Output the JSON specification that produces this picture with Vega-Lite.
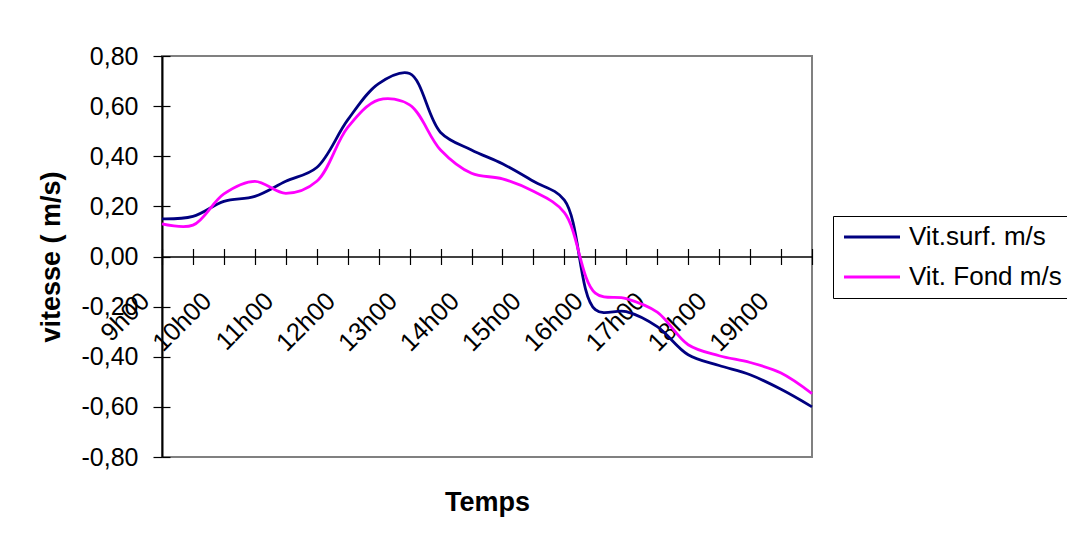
{
  "$schema": "https://vega.github.io/schema/vega-lite/v6.json",
  "width": 650,
  "height": 401,
  "autosize": {"type": "none"},
  "padding": {"left": 162, "top": 56, "right": 255, "bottom": 85},
  "background": "white",
  "config": {
    "view": {"stroke": "#808080", "strokeWidth": 2},
    "font": "Liberation Sans",
    "axis": {"grid": false}
  },
  "data": {
    "values": [
      {"t": 9.0, "serie": "Vit.surf. m/s", "v": 0.150},
      {"t": 9.5, "serie": "Vit.surf. m/s", "v": 0.160},
      {"t": 10.0, "serie": "Vit.surf. m/s", "v": 0.220},
      {"t": 10.5, "serie": "Vit.surf. m/s", "v": 0.240},
      {"t": 11.0, "serie": "Vit.surf. m/s", "v": 0.300},
      {"t": 11.5, "serie": "Vit.surf. m/s", "v": 0.355},
      {"t": 12.0, "serie": "Vit.surf. m/s", "v": 0.545},
      {"t": 12.5, "serie": "Vit.surf. m/s", "v": 0.690},
      {"t": 13.0, "serie": "Vit.surf. m/s", "v": 0.730},
      {"t": 13.5, "serie": "Vit.surf. m/s", "v": 0.495},
      {"t": 14.0, "serie": "Vit.surf. m/s", "v": 0.425},
      {"t": 14.5, "serie": "Vit.surf. m/s", "v": 0.370},
      {"t": 15.0, "serie": "Vit.surf. m/s", "v": 0.300},
      {"t": 15.5, "serie": "Vit.surf. m/s", "v": 0.225},
      {"t": 16.0, "serie": "Vit.surf. m/s", "v": -0.212},
      {"t": 16.5, "serie": "Vit.surf. m/s", "v": -0.220},
      {"t": 17.0, "serie": "Vit.surf. m/s", "v": -0.280},
      {"t": 17.5, "serie": "Vit.surf. m/s", "v": -0.392},
      {"t": 18.0, "serie": "Vit.surf. m/s", "v": -0.435},
      {"t": 18.5, "serie": "Vit.surf. m/s", "v": -0.472},
      {"t": 19.0, "serie": "Vit.surf. m/s", "v": -0.530},
      {"t": 19.5, "serie": "Vit.surf. m/s", "v": -0.600},
      {"t": 9.0, "serie": "Vit. Fond m/s", "v": 0.130},
      {"t": 9.5, "serie": "Vit. Fond m/s", "v": 0.125},
      {"t": 10.0, "serie": "Vit. Fond m/s", "v": 0.250},
      {"t": 10.5, "serie": "Vit. Fond m/s", "v": 0.300},
      {"t": 11.0, "serie": "Vit. Fond m/s", "v": 0.252},
      {"t": 11.5, "serie": "Vit. Fond m/s", "v": 0.300},
      {"t": 12.0, "serie": "Vit. Fond m/s", "v": 0.515},
      {"t": 12.5, "serie": "Vit. Fond m/s", "v": 0.625},
      {"t": 13.0, "serie": "Vit. Fond m/s", "v": 0.605},
      {"t": 13.5, "serie": "Vit. Fond m/s", "v": 0.425},
      {"t": 14.0, "serie": "Vit. Fond m/s", "v": 0.332},
      {"t": 14.5, "serie": "Vit. Fond m/s", "v": 0.310},
      {"t": 15.0, "serie": "Vit. Fond m/s", "v": 0.260},
      {"t": 15.5, "serie": "Vit. Fond m/s", "v": 0.175},
      {"t": 16.0, "serie": "Vit. Fond m/s", "v": -0.146},
      {"t": 16.5, "serie": "Vit. Fond m/s", "v": -0.168},
      {"t": 17.0, "serie": "Vit. Fond m/s", "v": -0.222},
      {"t": 17.5, "serie": "Vit. Fond m/s", "v": -0.352},
      {"t": 18.0, "serie": "Vit. Fond m/s", "v": -0.396},
      {"t": 18.5, "serie": "Vit. Fond m/s", "v": -0.423},
      {"t": 19.0, "serie": "Vit. Fond m/s", "v": -0.465},
      {"t": 19.5, "serie": "Vit. Fond m/s", "v": -0.547}
    ]
  },
  "layer": [
    {
      "mark": {"type": "line", "interpolate": "catmull-rom", "strokeWidth": 2.8},
      "encoding": {
        "x": {
          "field": "t", "type": "quantitative",
          "scale": {"domain": [9, 19.5], "nice": false, "zero": false},
          "axis": {
            "orient": "bottom", "offset": -200.5,
            "values": [9, 9.5, 10, 10.5, 11, 11.5, 12, 12.5, 13, 13.5, 14, 14.5, 15, 15.5, 16, 16.5, 17, 17.5, 18, 18.5, 19, 19.5],
            "labelExpr": "datum.value == floor(datum.value) ? floor(datum.value) + 'h00' : ''",
            "labelAngle": -45, "labelAlign": "right", "labelBaseline": "middle",
            "labelFontSize": 25.5, "labelColor": "black", "labelOffset": -17, "labelPadding": 32,
            "labelOverlap": false, "labelBound": false, "labelFlush": false,
            "tickSize": 8, "tickColor": "black", "tickWidth": 1.2,
            "domainColor": "black", "domainWidth": 1.5,
            "title": "Temps", "titleFontSize": 27, "titleFontWeight": "bold", "titleColor": "black",
            "titleY": 253.5, "titleBaseline": "alphabetic"
          }
        },
        "y": {
          "field": "v", "type": "quantitative",
          "scale": {"domain": [-0.8, 0.8], "nice": false},
          "axis": {
            "orient": "left",
            "values": [-0.8, -0.6, -0.4, -0.2, 0, 0.2, 0.4, 0.6, 0.8],
            "labelExpr": "(datum.value < -0.001 ? '-' : '') + replace(format(abs(datum.value), '.2f'), '.', ',')",
            "labelFontSize": 25, "labelColor": "black", "labelPadding": 15,
            "tickSize": 9, "tickColor": "black", "tickWidth": 1.2,
            "domainColor": "black", "domainWidth": 2,
            "title": "vitesse ( m/s)", "titleFontSize": 27, "titleFontWeight": "bold", "titleColor": "black",
            "titleX": -111, "titleBaseline": "middle"
          }
        },
        "color": {
          "field": "serie", "type": "nominal",
          "scale": {"domain": ["Vit.surf. m/s", "Vit. Fond m/s"], "range": ["#000080", "#FF00FF"]},
          "legend": {
            "orient": "none", "legendX": 671, "legendY": 160, "title": null,
            "strokeColor": "black", "fillColor": "white", "padding": 8,
            "symbolType": "M-1,0H4.6", "symbolSize": 400, "symbolStrokeWidth": 2.8,
            "labelFontSize": 26, "labelColor": "black", "labelOffset": 42, "rowPadding": 14,
            "labelLimit": 0
          }
        }
      }
    },
    {
      "mark": {"type": "point", "opacity": 0},
      "encoding": {
        "x": {
          "field": "t", "type": "quantitative",
          "axis": {
            "orient": "bottom", "offset": -200.5,
            "values": [9, 9.5, 10, 10.5, 11, 11.5, 12, 12.5, 13, 13.5, 14, 14.5, 15, 15.5, 16, 16.5, 17, 17.5, 18, 18.5, 19, 19.5],
            "labels": false, "domain": false, "tickSize": -8, "tickColor": "black", "tickWidth": 1.2, "title": null
          }
        },
        "y": {
          "field": "v", "type": "quantitative",
          "axis": {
            "orient": "left",
            "values": [-0.8, -0.6, -0.4, -0.2, 0, 0.2, 0.4, 0.6, 0.8],
            "labels": false, "domain": false, "tickSize": -8, "tickColor": "black", "tickWidth": 1.2, "title": null
          }
        }
      }
    }
  ],
  "resolve": {"axis": {"x": "independent", "y": "independent"}}
}
